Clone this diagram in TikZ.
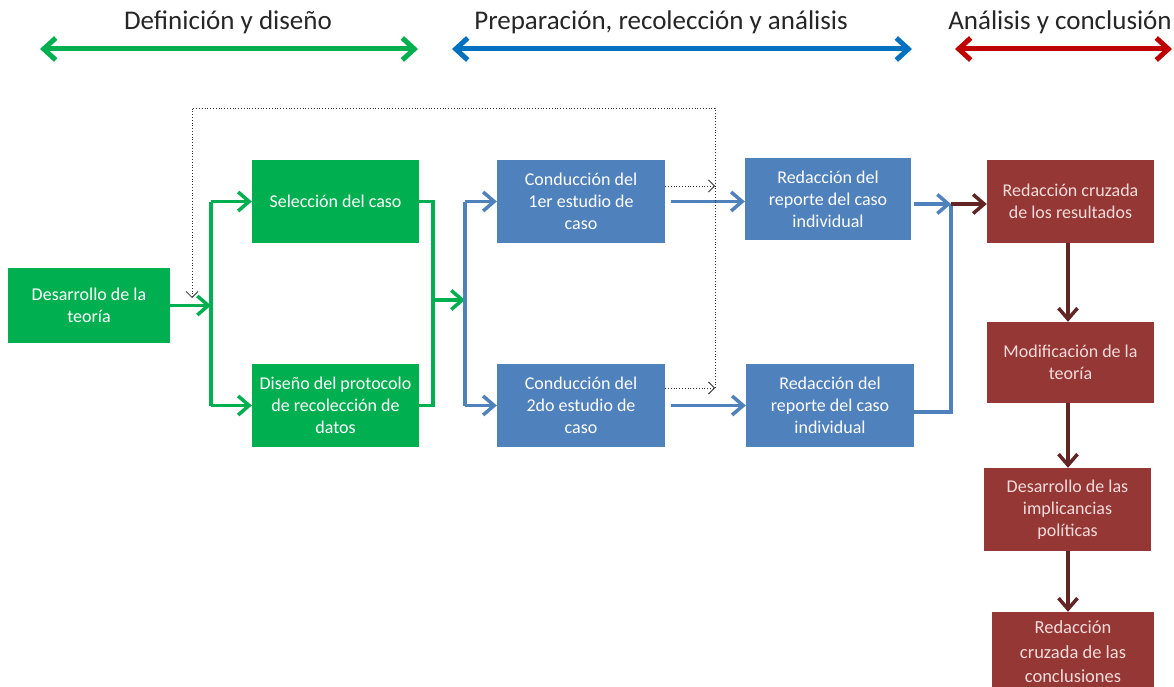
\documentclass[tikz,border=0pt]{standalone}
\usepackage{fontspec}
\setmainfont{Carlito}
\usetikzlibrary{arrows.meta}
\definecolor{gbox}{HTML}{00B050}
\definecolor{bbox}{HTML}{4F81BD}
\definecolor{rbox}{HTML}{953735}
\definecolor{rarr}{HTML}{632523}
\definecolor{tblue}{HTML}{0070C0}
\definecolor{tred}{HTML}{C00000}
\definecolor{rtext}{HTML}{F2DCDB}
\tikzset{
  box/.style={rectangle, inner sep=0pt, align=center, font=\fontsize{18}{22}\selectfont, text=white},
  gstep/.style={box, fill=gbox},
  bstep/.style={box, fill=bbox},
  rstep/.style={box, fill=rbox, text=rtext},
  title/.style={font=\fontsize{27}{30}\selectfont, text=black!85},
  conn/.style={line width=3.5pt, -{Straight Barb[length=11pt,width=19pt]}},
  gline/.style={line width=3.5pt, draw=gbox},
  bline/.style={line width=3.5pt, draw=bbox},
  garrow/.style={conn, draw=gbox},
  barrow/.style={conn, draw=bbox},
  rarrow/.style={conn, draw=rarr},
  toparrow/.style={line width=5pt, {Straight Barb[length=12pt,width=22pt]}-{Straight Barb[length=12pt,width=22pt]}},
  dotline/.style={line width=0.8pt, dotted, draw=black!80},
  dotarrow/.style={dotline, -{Straight Barb[length=6pt,width=12pt]}},
}
\begin{document}
\begin{tikzpicture}[x=1pt,y=-1pt]
\useasboundingbox (0,0) rectangle (1174,687);

% titles
\node[title] (t1) at (228,22) {Definición y diseño};
\node[title] (t2) at (661,22) {Preparación, recolección y análisis};
\node[title] (t3) at (1060,22) {Análisis y conclusión};
\coordinate (a1) at (40,49);  \coordinate (a2) at (418,49);
\coordinate (a3) at (452,49); \coordinate (a4) at (912,49);
\coordinate (a5) at (955,49); \coordinate (a6) at (1172,49);
\draw[toparrow, draw=gbox] (a1) -- (a2);
\draw[toparrow, draw=tblue] (a3) -- (a4);
\draw[toparrow, draw=tred] (a5) -- (a6);

% boxes
\node[gstep, minimum width=162pt, minimum height=75pt] (teoria) at (89,305.5) {Desarrollo de la\\teoría};
\node[gstep, minimum width=167pt, minimum height=83pt] (sel) at (335.5,201.5) {Selección del caso};
\node[gstep, minimum width=167pt, minimum height=83pt] (dis) at (335.5,405.5) {Diseño del protocolo\\de recolección de\\datos};
\node[bstep, minimum width=168pt, minimum height=83pt] (con1) at (581,201.5) {Conducción del\\1er estudio de\\caso};
\node[bstep, minimum width=168pt, minimum height=83pt] (con2) at (581,405.5) {Conducción del\\2do estudio de\\caso};
\node[bstep, minimum width=166pt, minimum height=82pt] (red1) at (828,199) {Redacción del\\reporte del caso\\individual};
\node[bstep, minimum width=168pt, minimum height=83pt] (red2) at (830,405.5) {Redacción del\\reporte del caso\\individual};
\node[rstep, minimum width=167pt, minimum height=83pt] (cr1) at (1070.5,201.5) {Redacción cruzada\\de los resultados};
\node[rstep, minimum width=167pt, minimum height=81pt] (mod) at (1070.5,362.5) {Modificación de la\\teoría};
\node[rstep, minimum width=167pt, minimum height=83pt] (imp) at (1067.5,509.5) {Desarrollo de las\\implicancias\\políticas};
\node[rstep, minimum width=162pt, minimum height=80pt, font=\fontsize{18.5}{24.5}\selectfont] (cr2) at (1073,652) {Redacción\\cruzada de las\\conclusiones};

% green connectors
\coordinate (j1) at (211,305.5);
\draw[garrow] (teoria.east) -- (j1);
\draw[gline] (j1 |- sel.west) -- (j1 |- dis.west);
\draw[garrow] (j1 |- sel.west) -- (sel.west);
\draw[garrow] (j1 |- dis.west) -- (dis.west);
\coordinate (j2) at (433,300);
\draw[gline] (sel.east) -| (j2) |- (dis.east);
\coordinate (j3) at (465,300);
\draw[garrow] (j2) -- (j3);

% blue connectors
\draw[bline] (j3 |- con1.west) -- (j3 |- con2.west);
\draw[barrow] (j3 |- con1.west) -- (con1.west);
\draw[barrow] (j3 |- con2.west) -- (con2.west);
\draw[barrow, shorten <=6pt] (con1.east) -- (con1.east -| red1.west);
\draw[barrow, shorten <=6pt] (con2.east) -- (con2.east -| red2.west);
\coordinate (j4) at (951,204);
\coordinate (j5) at (951,412);
\draw[barrow, shorten <=3pt] (j4 -| red1.east) -- (j4);
\draw[bline] (j4) -- (j5) -- (j5 -| red2.east);
\draw[rarrow] (j4) -- (j4 -| cr1.west);

% red connectors
\draw[rarrow] (cr1.south -| 1068,0) -- (mod.north -| 1068,0);
\draw[rarrow] (mod.south -| 1068,0) -- (imp.north -| 1068,0);
\draw[rarrow] (imp.south -| 1068,0) -- (cr2.north -| 1068,0);

% dotted feedback
\coordinate (d1) at (715,186);
\coordinate (d2) at (715,388);
\coordinate (d3) at (715,108);
\coordinate (d4) at (192,108);
\coordinate (d5) at (192,298);
\draw[dotarrow] (d1 -| con1.east) -- (d1);
\draw[dotarrow] (d2 -| con2.east) -- (d2);
\draw[dotarrow] (d2) -- (d3) -- (d4) -- (d5);
\end{tikzpicture}
\end{document}
